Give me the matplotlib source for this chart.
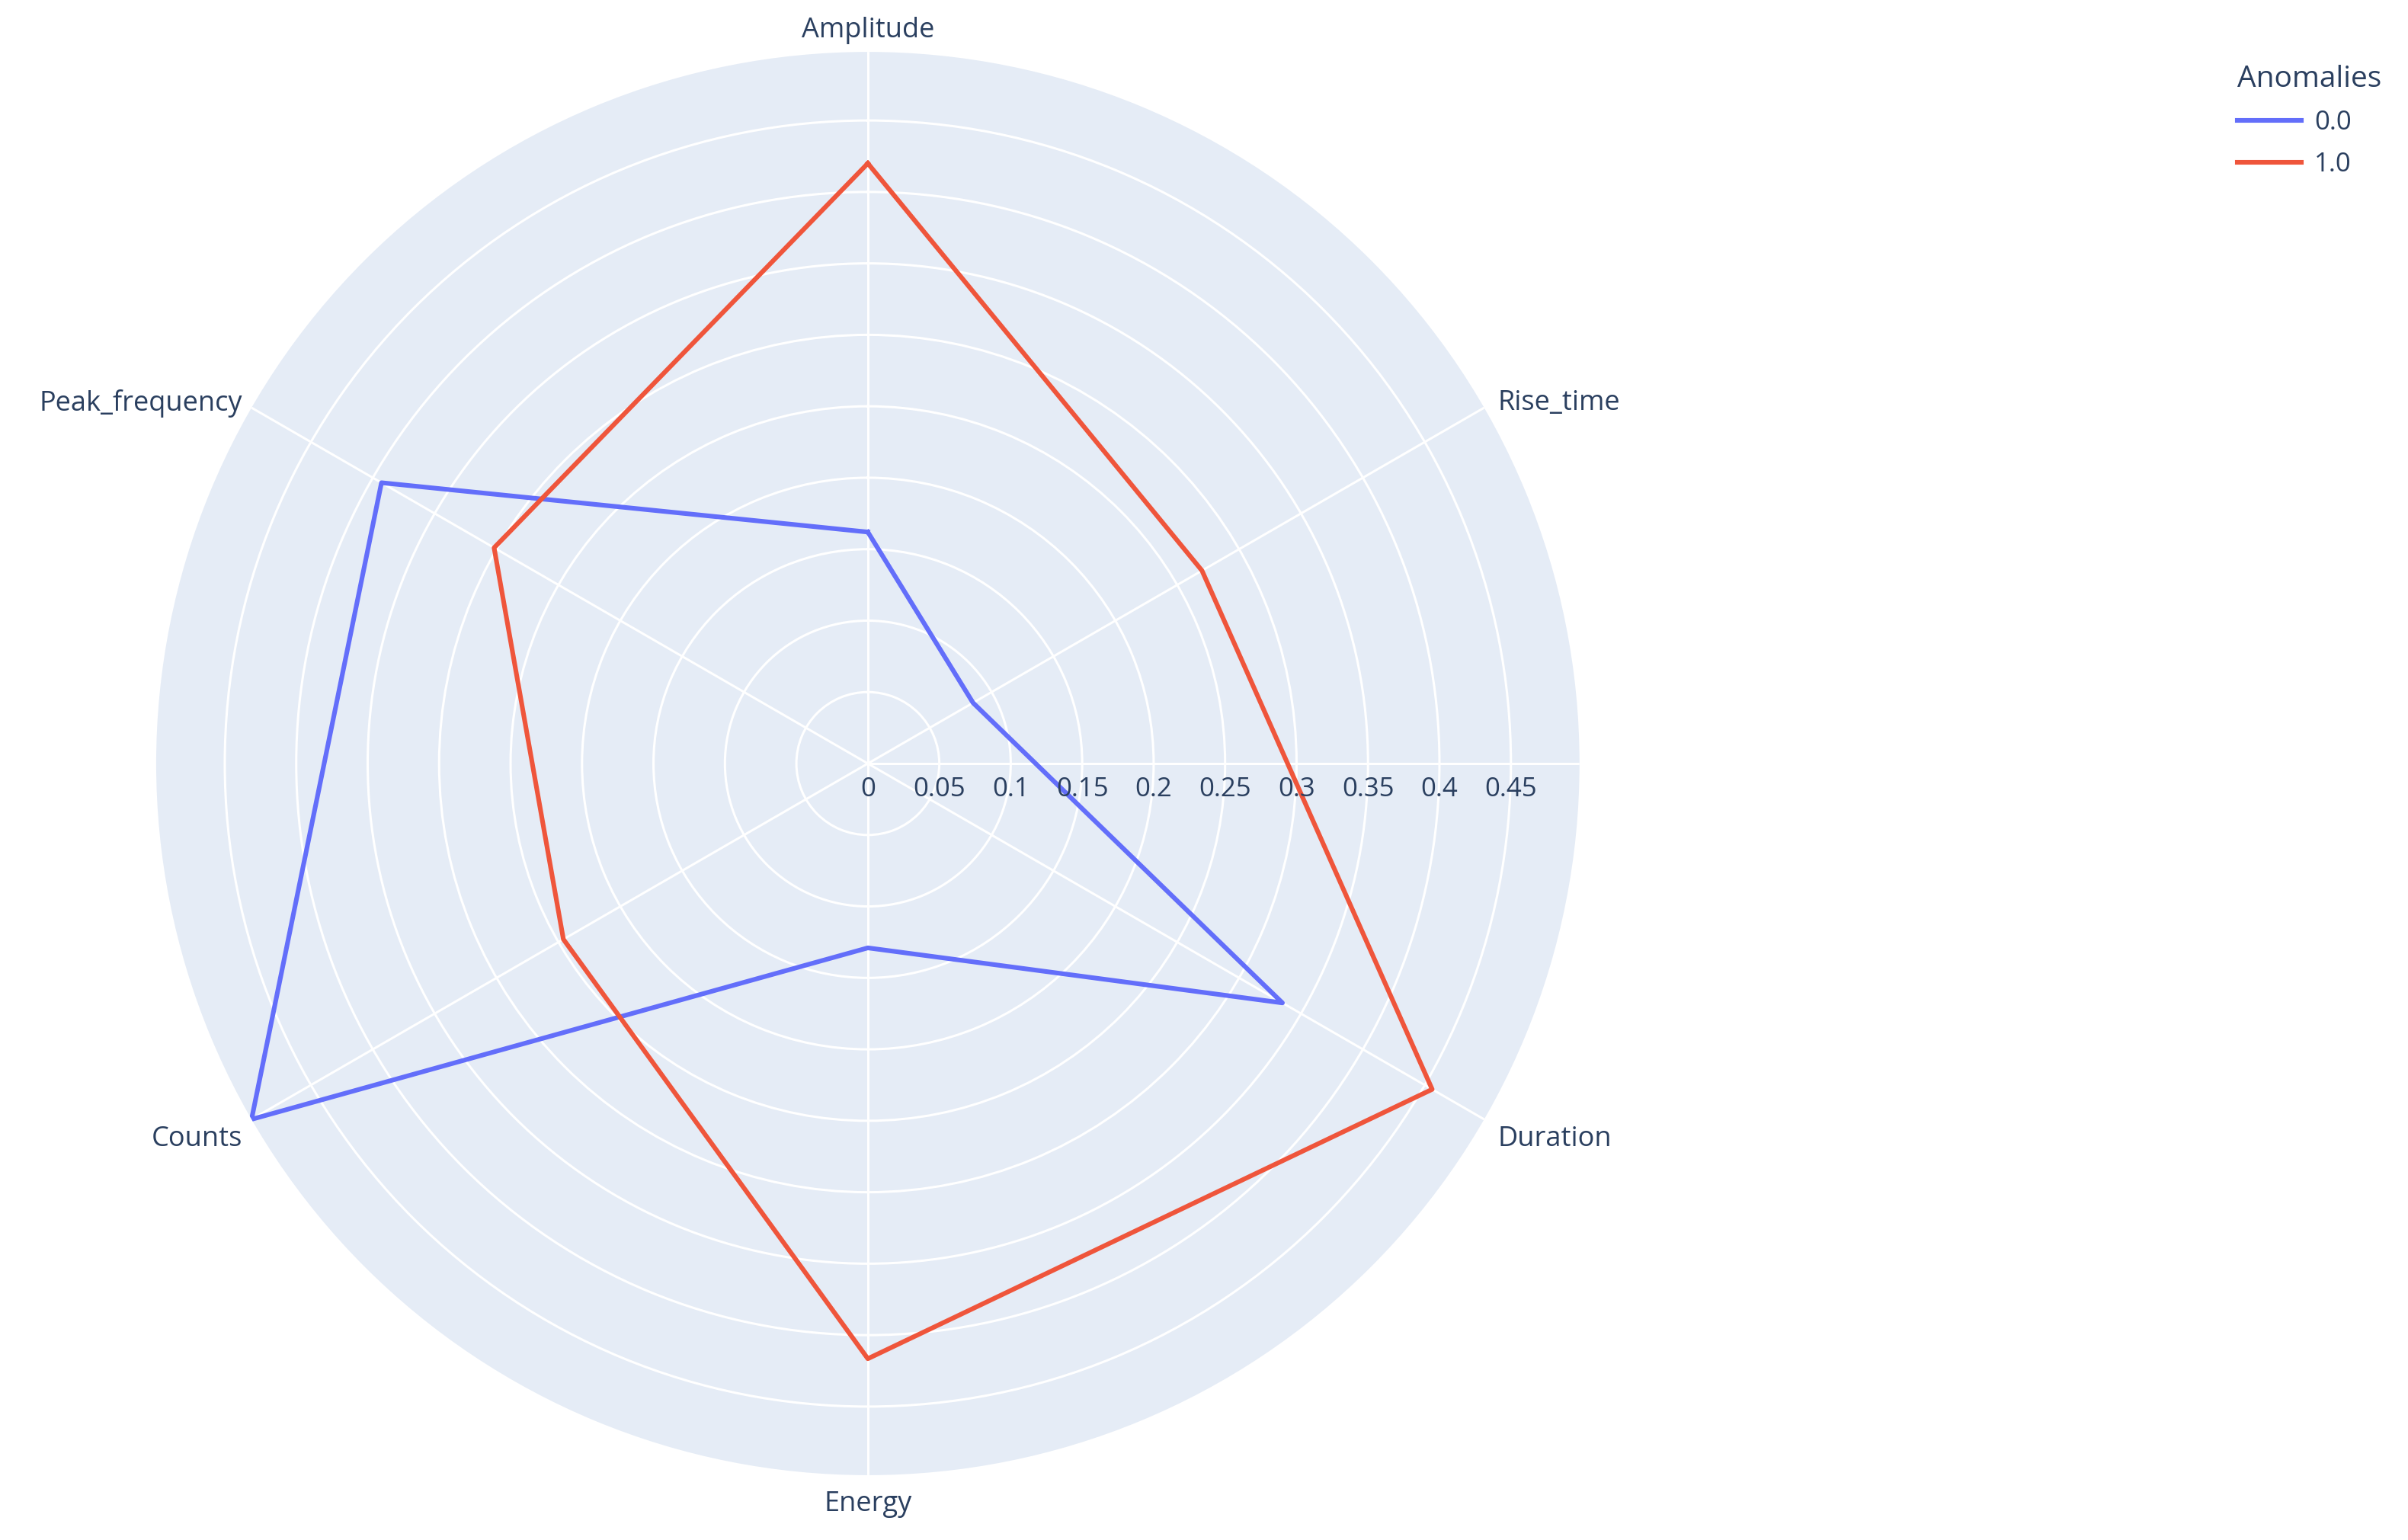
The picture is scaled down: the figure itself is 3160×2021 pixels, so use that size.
import numpy as np
import matplotlib
import matplotlib.pyplot as plt
import matplotlib.transforms as mtransforms
from matplotlib.lines import Line2D

plt.rcParams['font.family'] = ['Open Sans', 'DejaVu Sans']

categories = ['Amplitude', 'Rise_time', 'Duration', 'Energy', 'Counts', 'Peak_frequency']
normal = [0.162, 0.085, 0.335, 0.129, 0.498, 0.393]     # Anomalies = 0.0
anomaly = [0.420, 0.270, 0.456, 0.4165, 0.246, 0.302]   # Anomalies = 1.0
series_names = ['0.0', '1.0']
radial_ticks = [0, 0.05, 0.1, 0.15, 0.2, 0.25, 0.3, 0.35, 0.4, 0.45]

text_color = '#2a3f5f'
colors = ['#636EFA', '#EF553B']
rmax = 0.498

fig = plt.figure(figsize=(15.8, 10.105), dpi=200)
ax = fig.add_axes([0.0648, 0.0421, 0.5912, 0.9242], projection='polar')
ax.set_theta_zero_location('N')
ax.set_theta_direction(-1)
ax.set_facecolor('#E5ECF6')
ax.spines['polar'].set_visible(False)

angles = np.linspace(0, 2 * np.pi, len(categories), endpoint=False)

for vals, col in zip([normal, anomaly], colors):
    a = np.append(angles, angles[0])
    v = np.append(vals, vals[0])
    ax.plot(a, v, color=col, linewidth=2.2, zorder=3)

ax.set_ylim(0, rmax)
ax.set_yticks(radial_ticks[1:])
ax.set_yticklabels([])
ax.set_xticks(angles)
ax.set_xticklabels([])
ax.grid(True, color='white', linewidth=1.1)
ax.tick_params(length=0)

# radial axis line (pointing right)
ax.plot([np.pi / 2, np.pi / 2], [0, rmax], color='white', linewidth=1.1, zorder=2)

# radial tick labels below the axis line
offset = mtransforms.ScaledTranslation(0, -34 / 200, fig.dpi_scale_trans)
for t in radial_ticks:
    ax.text(np.pi / 2, t, f'{t:g}', transform=ax.transData + offset,
            ha='center', va='center', fontsize=12.5, color=text_color, zorder=4)

# angular labels
fs = 13
for ang, lab in zip(angles, categories):
    deg = np.degrees(ang) % 360
    if deg < 1:
        ha, va, dx, dy = 'center', 'bottom', 0, 10
    elif abs(deg - 180) < 1:
        ha, va, dx, dy = 'center', 'top', 0, -20
    elif deg < 90:
        ha, va, dx, dy = 'left', 'center', 18, 6
    elif deg < 180:
        ha, va, dx, dy = 'left', 'center', 18, -26
    elif deg < 270:
        ha, va, dx, dy = 'right', 'center', -12, -26
    else:
        ha, va, dx, dy = 'right', 'center', -12, 6
    off = mtransforms.ScaledTranslation(dx / 200, dy / 200, fig.dpi_scale_trans)
    ax.text(ang, rmax, lab, ha=ha, va=va, fontsize=fs, color=text_color,
            transform=ax.transData + off, clip_on=False)

handles = [Line2D([], [], color=c, linewidth=2.2) for c in colors]
leg = fig.legend(handles, series_names, title='Anomalies', loc='upper left',
                 bbox_to_anchor=(2905 / 3160, 1 - 54 / 2021), frameon=False,
                 fontsize=12.5, title_fontsize=14, alignment='left',
                 handlelength=2.4, handletextpad=0.5, labelspacing=0.6)
for t in leg.get_texts():
    t.set_color(text_color)
leg.get_title().set_color(text_color)

fig.savefig('out.png', dpi=200, facecolor='white')
